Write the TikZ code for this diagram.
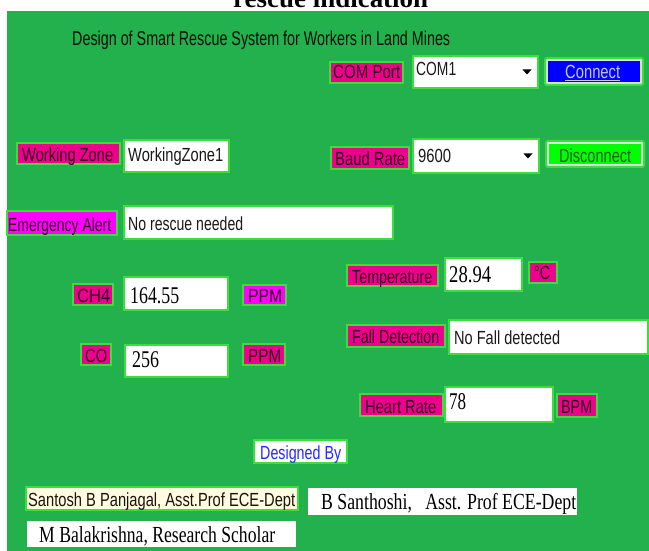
\documentclass[tikz,border=0pt]{standalone}
\usepackage{fontspec}
\setmainfont{Liberation Serif}
\setsansfont{Liberation Sans}
\usetikzlibrary{calc}
\definecolor{panel}{RGB}{34,177,76}
\definecolor{glow}{RGB}{60,222,60}
\definecolor{hotpink}{RGB}{236,0,140}
\definecolor{magent}{RGB}{255,0,255}
\definecolor{labtext}{RGB}{50,0,30}
\definecolor{cream}{RGB}{255,252,225}
\definecolor{btnblue}{RGB}{0,0,255}
\definecolor{btnlime}{RGB}{0,255,0}
\definecolor{btnface}{RGB}{225,225,232}
\definecolor{conntext}{RGB}{200,200,255}
\definecolor{disctext}{RGB}{30,95,30}
\definecolor{byblue}{RGB}{40,40,255}
\definecolor{titletext}{RGB}{5,15,5}
\tikzset{
  boxbase/.style={rectangle, inner sep=0pt, outer sep=0pt, anchor=north west},
  pinklab/.style={boxbase, fill=hotpink, draw=glow, line width=2pt},
  maglab/.style={boxbase, fill=magent, draw=glow, line width=2pt},
  field/.style={boxbase, fill=white, draw=glow, line width=2pt},
  plainfield/.style={boxbase, fill=white},
  creamfield/.style={boxbase, fill=cream, draw=glow, line width=2pt},
  btnouter/.style={boxbase, fill=btnface, draw=glow, line width=2pt, rounded corners=1.5pt},
  bluebtn/.style={boxbase, fill=btnblue},
  limebtn/.style={boxbase, fill=btnlime},
  paneltop/.style={boxbase, fill=panel},
  guitxt/.style={anchor=base west, inner sep=0pt, font=\fontsize{19}{19}\selectfont\sffamily},
  labtxt/.style={guitxt, text=labtext},
  fieldtxt/.style={guitxt, text=black!90},
  numtxt/.style={anchor=base west, inner sep=0pt, font=\fontsize{24}{24}\selectfont\rmfamily, text=black},
  nametxt/.style={anchor=base west, inner sep=0pt, font=\fontsize{23}{23}\selectfont\rmfamily, text=black},
  titletxt/.style={anchor=base west, inner sep=0pt, font=\fontsize{20}{20}\selectfont\sffamily, text=titletext},
  droparrow/.style={fill=black},
}
\newcommand\uibox[4]{\path let \p1=(#3), \p2=(#4) in node[#1, minimum width=\x2-\x1, minimum height=\y1-\y2] (#2) at (#3) {};}
\newcommand\uitext[5]{\node[#1] (#2) at (#3) {\resizebox{#4pt}{\height}{#5}};}
\begin{document}
\begin{tikzpicture}[x=1pt,y=-1pt]
\useasboundingbox (0,0) rectangle (649,551);
\clip (0,0) rectangle (649,551);
\fill[white] (0,0) rectangle (649,551);
% heading (cut off at the top)
\node[anchor=base west, inner sep=0pt, font=\fontsize{26}{26}\selectfont\bfseries\rmfamily] (heading) at (233,7.5) {\resizebox{195pt}{\height}{rescue indication}};
% panel
\uibox{paneltop}{panel}{7,11}{649,551}
% title
\uitext{titletxt}{title}{72,46}{378}{Design of Smart Rescue System for Workers in Land Mines}
% COM port row
\uibox{pinklab}{comlab}{330,62}{403,83}
\uitext{labtxt}{comlabt}{333,79}{67}{COM Port}
\uibox{field}{combox}{413,56}{538,88}
\uitext{fieldtxt}{comboxt}{416,76}{40}{COM1}
\fill[droparrow] (522.5,69.5) -- (531.5,69.5) -- (527,74.5) -- cycle;
\uibox{btnouter}{connect}{545,58}{643,85}
\uibox{bluebtn}{connectin}{548,61}{640,82}
\uitext{guitxt, text=conntext}{connectt}{565,78.5}{55}{Connect}
\draw[conntext, line width=0.7pt] ([yshift=-1.8pt]connectt.base west) -- ([yshift=-1.8pt]connectt.base east);
% working zone / baud
\uibox{pinklab}{wzlab}{17,143}{120,164}
\uitext{labtxt}{wzlabt}{22,161}{91}{Working Zone}
\uibox{field}{wzbox}{124,140}{229,172}
\uitext{fieldtxt}{wzboxt}{128,161}{95}{WorkingZone1}
\uibox{pinklab}{baudlab}{331,147}{409,169}
\uitext{labtxt}{baudlabt}{335,165}{70}{Baud Rate}
\uibox{field}{baudbox}{413,139}{539,173}
\uitext{fieldtxt}{baudboxt}{418,162}{33}{9600}
\fill[droparrow] (523.5,153.5) -- (532.5,153.5) -- (528,158.5) -- cycle;
\uibox{btnouter}{disconnect}{546,141}{644,167}
\uibox{limebtn}{disconnectin}{549,144}{641,164}
\uitext{guitxt, text=disctext}{disconnectt}{559,162}{72}{Disconnect}
% emergency
\uibox{maglab}{emlab}{7,211}{117,235}
\uitext{labtxt}{emlabt}{8,231}{103}{Emergency Alert}
\uibox{field}{embox}{124,206}{393,239}
\uitext{fieldtxt}{emboxt}{128,230}{115}{No rescue needed}
% temperature
\uibox{pinklab}{templab}{347,265}{438,286}
\uitext{labtxt}{templabt}{352,283}{80}{Temperature}
\uibox{field}{tempbox}{445,258}{522,291}
\uitext{numtxt}{tempboxt}{449,282}{42}{28.94}
\uibox{pinklab}{degc}{529,262}{557,283}
\uitext{labtxt}{degct}{534,279}{16}{°C}
% CH4
\uibox{pinklab}{ch4lab}{73,284}{113,305}
\uitext{labtxt}{ch4labt}{77,302}{33}{CH4}
\uibox{field}{ch4box}{124,277}{228,310}
\uitext{numtxt}{ch4boxt}{130,303}{49}{164.55}
\uibox{maglab}{ppma}{243,285}{286,305}
\uitext{labtxt}{ppmat}{248,302}{34}{PPM}
% fall detection
\uibox{pinklab}{falllab}{347,325}{445,347}
\uitext{labtxt}{falllabt}{352,343}{87}{Fall Detection}
\uibox{field}{fallbox}{449,320}{648,354}
\uitext{fieldtxt}{fallboxt}{454,344}{106}{No Fall detected}
% CO
\uibox{pinklab}{colab}{81,344}{111,365}
\uitext{labtxt}{colabt}{85,362}{22}{CO}
\uibox{field}{cobox}{125,345}{228,377}
\uitext{numtxt}{coboxt}{132,367}{27}{256}
\uibox{pinklab}{ppmb}{243,344}{285,365}
\uitext{labtxt}{ppmbt}{248,362}{33}{PPM}
% heart rate
\uibox{pinklab}{hrlab}{360,394}{443,416}
\uitext{labtxt}{hrlabt}{365,413}{71}{Heart Rate}
\uibox{field}{hrbox}{445,387}{553,422}
\uitext{numtxt}{hrboxt}{449,409}{17}{78}
\uibox{pinklab}{bpm}{557,394}{597,417}
\uitext{labtxt}{bpmt}{561,413}{31}{BPM}
% designed by
\uibox{field}{designed}{254,440}{347,463}
\uitext{guitxt, text=byblue}{designedt}{260,459}{81}{Designed By}
\uibox{creamfield}{santosh}{26,487}{298,510}
\uitext{guitxt, text=black!85!brown}{santosht}{28,506}{267}{Santosh B Panjagal, Asst.Prof ECE-Dept}
\uibox{plainfield}{santhoshi}{308,488}{577,515}
\uitext{nametxt}{santhoshit}{321,509}{255}{B Santhoshi,\ \ \ Asst. Prof ECE-Dept}
\uibox{plainfield}{bala}{27,521}{296,547}
\uitext{nametxt}{balat}{39,542}{236}{M Balakrishna, Research Scholar}
\end{tikzpicture}
\end{document}
